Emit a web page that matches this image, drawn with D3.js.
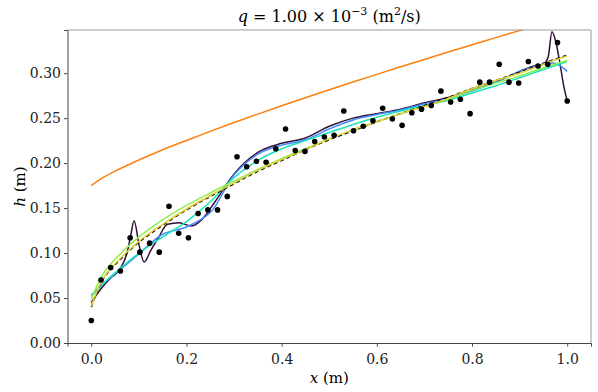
<!DOCTYPE html>
<meta charset="utf-8">
<script src="https://d3js.org/d3.v7.min.js"></script>
<style>
  body { margin: 0; background: #fff; }
  text { font-family: "DejaVu Serif", serif; }
</style>
<div id="chart"></div>
<script>

// measured points (50 samples, x evenly spaced on [0, 1])
var obsX = d3.range(50).map(function(i) { return i / 49; });
var obsH = [0.025, 0.070, 0.084, 0.080, 0.117, 0.101, 0.111, 0.101, 0.152, 0.122,
            0.117, 0.144, 0.148, 0.148, 0.163, 0.207, 0.196, 0.202, 0.201, 0.216,
            0.238, 0.214, 0.213, 0.224, 0.229, 0.231, 0.258, 0.236, 0.241, 0.247,
            0.261, 0.249, 0.242, 0.256, 0.260, 0.264, 0.280, 0.268, 0.271, 0.255,
            0.290, 0.290, 0.310, 0.290, 0.289, 0.313, 0.308, 0.310, 0.334, 0.269];

// curves
var gridX = [0, 0.025, 0.05, 0.1, 0.15, 0.2, 0.25, 0.3, 0.35, 0.4, 0.45, 0.5,
             0.55, 0.6, 0.65, 0.7, 0.75, 0.8, 0.85, 0.9, 0.95, 1.0];
var orangeH = [0.175, 0.1841, 0.1911, 0.2035, 0.2149, 0.2252, 0.2353, 0.2451, 0.2545, 0.2637, 0.2727,
               0.2815, 0.2902, 0.2987, 0.3071, 0.3153, 0.3235, 0.3316, 0.3395, 0.3474, 0.3553, 0.363];
var yellowH = [0.041, 0.072, 0.088, 0.113, 0.132, 0.149, 0.164, 0.178, 0.192, 0.204, 0.215,
               0.227, 0.237, 0.246, 0.255, 0.263, 0.272, 0.283, 0.292, 0.300, 0.310, 0.319];
var greenH = [0.049, 0.077, 0.093, 0.118, 0.137, 0.153, 0.167, 0.180, 0.193, 0.205, 0.216,
              0.227, 0.237, 0.246, 0.255, 0.263, 0.271, 0.281, 0.289, 0.297, 0.306, 0.314];
var dashH = [0.040, 0.071, 0.087, 0.112, 0.131, 0.148, 0.163, 0.177, 0.191, 0.203, 0.215,
             0.226, 0.236, 0.246, 0.255, 0.264, 0.273, 0.283, 0.292, 0.301, 0.311, 0.320];
var cyanH = [0.052, 0.066, 0.078, 0.100, 0.118, 0.135, 0.157, 0.184, 0.203, 0.216, 0.225,
             0.234, 0.243, 0.251, 0.258, 0.264, 0.270, 0.278, 0.286, 0.295, 0.304, 0.313];
var blueX = [0, 0.025, 0.05, 0.1, 0.15, 0.2, 0.25, 0.3, 0.35, 0.4, 0.45, 0.5,
             0.55, 0.6, 0.65, 0.7, 0.75, 0.8, 0.85, 0.9, 0.95, 0.975, 1.0];
var blueH = [0.053, 0.066, 0.077, 0.099, 0.121, 0.129, 0.145, 0.187, 0.210, 0.220, 0.226, 0.238,
             0.248, 0.254, 0.259, 0.266, 0.272, 0.280, 0.290, 0.302, 0.310, 0.311, 0.302];
var purpleX = [0, 0.02, 0.04, 0.06, 0.075, 0.082, 0.09, 0.1, 0.111, 0.125, 0.141, 0.16, 0.185,
               0.21, 0.23, 0.26, 0.3, 0.35, 0.4, 0.45, 0.5, 0.55, 0.6, 0.65, 0.7, 0.75, 0.8,
               0.85, 0.9, 0.93, 0.95, 0.96, 0.968, 0.976, 0.985, 0.993, 1.0];
var purpleH = [0.045, 0.060, 0.072, 0.082, 0.100, 0.117, 0.136, 0.110, 0.090, 0.103, 0.117, 0.132,
               0.1337, 0.130, 0.136, 0.157, 0.188, 0.212, 0.222, 0.228, 0.241, 0.250, 0.255, 0.260,
               0.267, 0.273, 0.281, 0.290, 0.302, 0.308, 0.310, 0.318, 0.346, 0.335, 0.310, 0.285, 0.269];

var yTicks = [0, 0.05, 0.10, 0.15, 0.20, 0.25, 0.30];
var xTicks = [0, 0.2, 0.4, 0.6, 0.8, 1.0];

var W = 598, H = 392;
var margin = {top: 30, right: 7, bottom: 49, left: 67.5};
var width = W - margin.left - margin.right,
    height = H - margin.top - margin.bottom;

var svg = d3.select("#chart").append("svg")
    .attr("width", W).attr("height", H);

var g = svg.append("g")
    .attr("transform", "translate(" + margin.left + "," + margin.top + ")");

var x = d3.scaleLinear().domain([-0.05, 1.05]).range([0, width]);
var y = d3.scaleLinear().domain([0, 0.348]).range([height, 0]);

g.append("clipPath").attr("id", "clip")
  .append("rect").attr("width", width).attr("height", height);

var plot = g.append("g").attr("clip-path", "url(#clip)");

function drawCurve(xs, hs, color, dash, curve) {
  var pts = xs.map(function(d, i) { return [d, hs[i]]; });
  var line = d3.line()
    .x(function(d) { return x(d[0]); })
    .y(function(d) { return y(d[1]); })
    .curve(curve || d3.curveCatmullRom.alpha(0.5));
  plot.append("path")
    .datum(pts)
    .attr("d", line)
    .attr("fill", "none")
    .attr("stroke", color)
    .attr("stroke-width", 1.5)
    .attr("stroke-dasharray", dash || null);
}

drawCurve(gridX, orangeH, "#ff7f0e");
drawCurve(purpleX, purpleH, "#30123b", null, d3.curveMonotoneX);
drawCurve(blueX, blueH, "#4686fb");
drawCurve(gridX, cyanH, "#1ae4b6");
drawCurve(gridX, greenH, "#8ef04e");
drawCurve(gridX, dashH, "#000", "4,3");
drawCurve(gridX, yellowH, "#e1cf37");

plot.selectAll("circle")
  .data(obsX)
  .enter()
  .append("circle")
    .attr("cx", function(d) { return x(d); })
    .attr("cy", function(d, i) { return y(obsH[i]); })
    .attr("r", 2.8)
    .attr("fill", "#000");

// axes
var xAxis = g.append("g")
  .attr("transform", "translate(0," + height + ")")
  .call(d3.axisBottom(x).tickValues(xTicks).tickFormat(d3.format(".1f")).tickSizeOuter(0).tickSize(3.5));
var yAxis = g.append("g")
  .call(d3.axisLeft(y).tickValues(yTicks).tickFormat(d3.format(".2f")).tickSizeOuter(0).tickSize(3.5));

[xAxis, yAxis].forEach(function(a) {
  a.selectAll("text").style("font-size", "14px").style("font-family", "DejaVu Serif").attr("fill", "#222");
  a.selectAll(".tick line").attr("stroke", "#444");
  a.select(".domain").attr("stroke", "#444");
});
xAxis.selectAll("text").attr("dy", "1.0em");

// top and right spines
g.append("line").attr("x1", 0).attr("x2", width).attr("y1", 0).attr("y2", 0)
  .attr("stroke", "#999");
g.append("line").attr("x1", width).attr("x2", width).attr("y1", 0).attr("y2", height)
  .attr("stroke", "#999");

// labels
var xl = svg.append("text")
  .attr("x", margin.left + width / 2).attr("y", 383)
  .attr("text-anchor", "middle").style("font-size", "15px");
xl.append("tspan").style("font-style", "italic").text("x");
xl.append("tspan").text(" (m)");

var yl = svg.append("text")
  .attr("transform", "translate(25," + (margin.top + height / 2) + ") rotate(-90)")
  .attr("text-anchor", "middle").style("font-size", "15px");
yl.append("tspan").style("font-style", "italic").text("h");
yl.append("tspan").text(" (m)");

var title = svg.append("text")
  .attr("x", margin.left + width / 2).attr("y", 22)
  .attr("text-anchor", "middle").style("font-size", "16px");
title.append("tspan").style("font-style", "italic").text("q");
title.append("tspan").text(" = 1.00 × 10");
title.append("tspan").attr("dy", -7).style("font-size", "11px").text("−3");
title.append("tspan").attr("dy", 7).text(" (m");
title.append("tspan").attr("dy", -7).style("font-size", "11px").text("2");
title.append("tspan").attr("dy", 7).text("/s)");

</script>
